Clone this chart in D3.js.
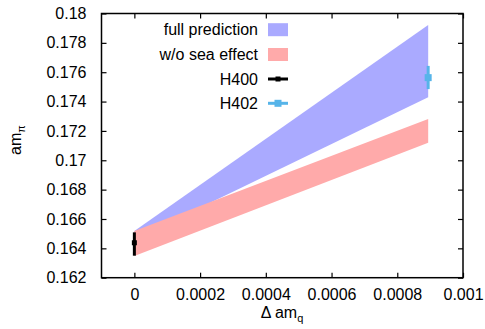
<!DOCTYPE html>
<html><head><meta charset="utf-8">
<script src="https://cdn.jsdelivr.net/npm/d3@7"></script>
<style>body{margin:0;background:#fff}svg{display:block}text{font-family:"Liberation Sans",Arial,sans-serif;fill:#000}</style>
</head><body><svg id="c" width="485" height="329"></svg>
<script>
const xTicks = [0, 0.0002, 0.0004, 0.0006, 0.0008, 0.001];
const yTicks = [0.162, 0.164, 0.166, 0.168, 0.17, 0.172, 0.174, 0.176, 0.178, 0.18];
const bandX = [0, 0.000894];
const fullUpper = [0.16518, 0.17922];
const fullLower = [0.16461, 0.17429];
const seaUpper = [0.16518, 0.17281];
const seaLower = [0.16348, 0.17120];
const pointNames = ["H400", "H402"];
const pointX = [0, 0.000894];
const pointY = [0.16438, 0.17563];
const pointLo = [0.16350, 0.17485];
const pointHi = [0.16509, 0.17643];
const legendLabels = ["full prediction", "w/o sea effect", "H400", "H402"];

const colBlue = "#aaaaff", colRed = "#ffaaaa", colH400 = "#000000", colH402 = "#56b4e9";

const svg = d3.select("#c");
const L = 101.5, R = 463, T = 13.5, B = 277.7;
const x = d3.scaleLinear().domain([-0.0001, 0.001]).range([L, R]);
const y = d3.scaleLinear().domain([0.162, 0.18]).range([B, T]);

// bands
const area = d3.area().x(d => x(d.x)).y0(d => y(d.lo)).y1(d => y(d.hi));
const fullData = bandX.map((v, i) => ({x: v, lo: fullLower[i], hi: fullUpper[i]}));
const seaData = bandX.map((v, i) => ({x: v, lo: seaLower[i], hi: seaUpper[i]}));
svg.append("path").attr("d", area(fullData)).attr("fill", colBlue);
svg.append("path").attr("d", area(seaData)).attr("fill", colRed);

// points
const pcols = [colH400, colH402];
const msize = [5, 7];
pointNames.forEach((n, i) => {
  svg.append("line").attr("x1", x(pointX[i])).attr("x2", x(pointX[i]))
    .attr("y1", y(pointLo[i])).attr("y2", y(pointHi[i]))
    .attr("stroke", pcols[i]).attr("stroke-width", 3);
  svg.append("rect").attr("x", x(pointX[i]) - msize[i]/2).attr("y", y(pointY[i]) - msize[i]/2)
    .attr("width", msize[i]).attr("height", msize[i]).attr("fill", pcols[i]);
});

// axes
const fmt = d => String(+d.toFixed(4));
const tl = 5;
const gx = svg.append("g").attr("transform", `translate(0,${B})`)
  .call(d3.axisBottom(x).tickValues(xTicks).tickSize(-tl).tickPadding(tl + 6).tickFormat(fmt));
const gxt = svg.append("g").attr("transform", `translate(0,${T})`)
  .call(d3.axisTop(x).tickValues(xTicks).tickSize(-tl).tickFormat(""));
const gy = svg.append("g").attr("transform", `translate(${L},0)`)
  .call(d3.axisLeft(y).tickValues(yTicks).tickSize(-tl).tickPadding(tl + 10).tickFormat(fmt));
const gyr = svg.append("g").attr("transform", `translate(${R},0)`)
  .call(d3.axisRight(y).tickValues(yTicks).tickSize(-tl).tickFormat(""));
[gx, gxt, gy, gyr].forEach(g => {
  g.select(".domain").remove();
  g.selectAll(".tick line").attr("stroke", "#000").attr("stroke-width", 1.2);
  g.selectAll("text").attr("font-size", 16).attr("font-family", "Liberation Sans, Arial, sans-serif");
});
svg.append("rect").attr("x", L).attr("y", T).attr("width", R - L).attr("height", B - T)
  .attr("fill", "none").attr("stroke", "#000").attr("stroke-width", 1.5);

// axis labels
const yl = svg.append("text").attr("transform", "translate(21,140) rotate(-90)")
  .attr("text-anchor", "middle").attr("font-size", 16);
yl.append("tspan").text("am");
yl.append("tspan").attr("font-size", 11).attr("dy", 4).text("π");
const xl = svg.append("text").attr("x", 282).attr("y", 318)
  .attr("text-anchor", "middle").attr("font-size", 16);
xl.append("tspan").text("Δ am");
xl.append("tspan").attr("font-size", 11).attr("dy", 4).text("q");

// legend
const ly = [29.7, 54.5, 79, 103.3];
legendLabels.forEach((lab, i) => {
  svg.append("text").attr("x", 258).attr("y", ly[i]).attr("dy", "0.35em")
    .attr("text-anchor", "end").attr("font-size", 16).text(lab);
});
svg.append("rect").attr("x", 268).attr("y", ly[0] - 6.5).attr("width", 20).attr("height", 13).attr("fill", colBlue);
svg.append("rect").attr("x", 268).attr("y", ly[1] - 6.5).attr("width", 20).attr("height", 13).attr("fill", colRed);
[2, 3].forEach((k, j) => {
  svg.append("line").attr("x1", 268).attr("x2", 288).attr("y1", ly[k]).attr("y2", ly[k])
    .attr("stroke", pcols[j]).attr("stroke-width", 3);
  svg.append("rect").attr("x", 278 - msize[j]/2).attr("y", ly[k] - msize[j]/2)
    .attr("width", msize[j]).attr("height", msize[j]).attr("fill", pcols[j]);
});
</script></body></html>
